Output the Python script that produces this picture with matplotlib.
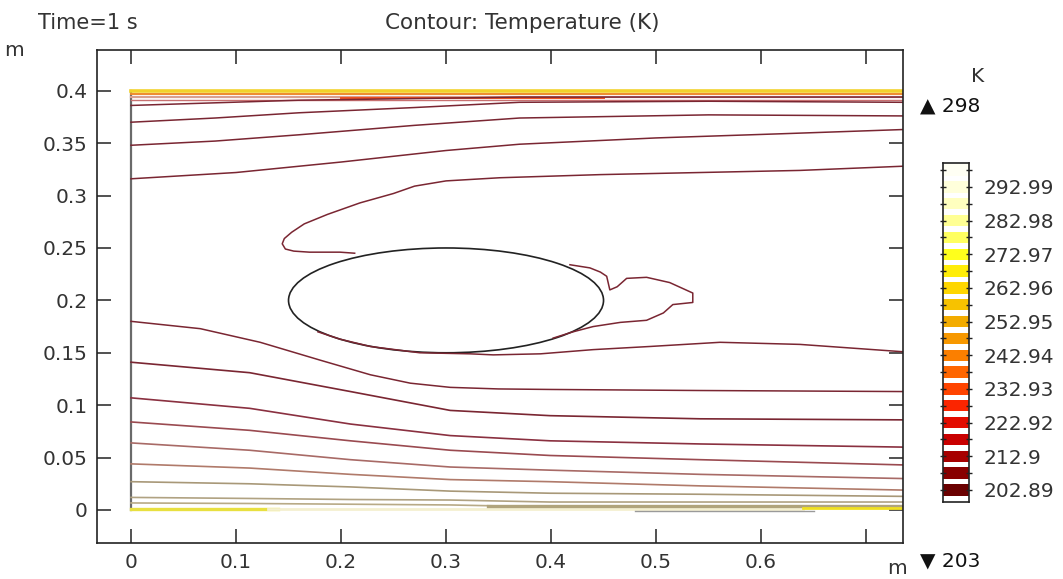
import matplotlib
matplotlib.use("Agg")
import matplotlib.pyplot as plt
from matplotlib.patches import Ellipse
from matplotlib.colors import LinearSegmentedColormap, Normalize

# ---- data (metres / kelvin) ----
# isolines above the cylinder
t4_x = [0.0, 0.16, 0.37, 0.735]
t4_y = [0.386, 0.391, 0.394, 0.394]
t5_x = [0.0, 0.08, 0.16, 0.27, 0.37, 0.55, 0.735]
t5_y = [0.370, 0.374, 0.379, 0.384, 0.389, 0.390, 0.389]
t6_x = [0.0, 0.08, 0.16, 0.27, 0.37, 0.55, 0.735]
t6_y = [0.348, 0.352, 0.358, 0.367, 0.374, 0.377, 0.376]
t7_x = [0.0, 0.1, 0.2, 0.3, 0.37, 0.5, 0.62, 0.735]
t7_y = [0.316, 0.322, 0.332, 0.343, 0.349, 0.355, 0.359, 0.363]

# contour that wraps over the cylinder, and the wake lobe
loop_x = [0.735, 0.637, 0.542, 0.447, 0.351, 0.300, 0.270, 0.250, 0.218,
          0.187, 0.165, 0.153, 0.146, 0.144, 0.147, 0.155, 0.170, 0.199, 0.213]
loop_y = [0.328, 0.324, 0.322, 0.320, 0.317, 0.314, 0.309, 0.302, 0.293,
          0.282, 0.273, 0.265, 0.259, 0.254, 0.249, 0.247, 0.246, 0.246, 0.245]
wake_x = [0.418, 0.437, 0.447, 0.453, 0.456, 0.463, 0.472, 0.491, 0.513,
          0.535, 0.535, 0.516, 0.507, 0.491, 0.466, 0.440, 0.421, 0.402]
wake_y = [0.234, 0.231, 0.227, 0.223, 0.210, 0.213, 0.221, 0.222, 0.217,
          0.207, 0.198, 0.196, 0.188, 0.181, 0.179, 0.175, 0.170, 0.164]
under_x = [0.178, 0.199, 0.228, 0.275, 0.323, 0.345, 0.390, 0.440, 0.494,
           0.561, 0.637, 0.735]
under_y = [0.170, 0.163, 0.156, 0.150, 0.149, 0.148, 0.149, 0.153, 0.156,
           0.160, 0.158, 0.151]

# isolines below the cylinder
a_x = [0.0, 0.066, 0.123, 0.18, 0.228, 0.266, 0.304, 0.35, 0.40, 0.542, 0.735]
a_y = [0.180, 0.173, 0.160, 0.143, 0.129, 0.121, 0.117, 0.1155, 0.115, 0.114, 0.113]
low_x = [0.0, 0.113, 0.209, 0.304, 0.399, 0.542, 0.735]
b_y = [0.141, 0.131, 0.113, 0.095, 0.090, 0.087, 0.086]
c_y = [0.107, 0.097, 0.082, 0.071, 0.066, 0.063, 0.060]
d_y = [0.084, 0.076, 0.066, 0.057, 0.052, 0.048, 0.043]
e_y = [0.064, 0.057, 0.048, 0.041, 0.038, 0.034, 0.030]
f_y = [0.044, 0.040, 0.034, 0.029, 0.027, 0.023, 0.019]
g_y = [0.027, 0.025, 0.022, 0.018, 0.016, 0.015, 0.013]
h_y = [0.012, 0.011, 0.010, 0.0095, 0.0076, 0.0076, 0.0076]
i_y = [0.0067, 0.0062, 0.0055, 0.0048, 0.0029, 0.0029, 0.0029]

# colour legend
levels = [202.89, 207.9, 212.9, 217.91, 222.92, 227.92, 232.93, 237.93,
          242.94, 247.95, 252.95, 257.96, 262.96, 267.97, 272.97, 277.98,
          282.98, 287.99, 292.99, 297.99]
level_labels = [202.89, 212.9, 222.92, 232.93, 242.94, 252.95, 262.96,
                272.97, 282.98, 292.99]
t_min, t_max = 203, 298

W, H = 1063, 579
fig = plt.figure(figsize=(W / 100, H / 100), dpi=100)
txt = "#333333"
fs = 14.5


def box(l, t, r, b):
    return [l / W, 1 - b / H, (r - l) / W, (b - t) / H]


ax = fig.add_axes(box(97, 50, 903, 543))
ax.set_xlim(-0.0324, 0.7352)
ax.set_ylim(-0.0315, 0.4389)

dark = "#7a2632"
ax.plot([0, 0], [0, 0.4], color="#6a6a6a", lw=1.6)

# hot wall at the top
ax.plot([0, 0.735], [0.3995, 0.3995], color="#f2d22a", lw=2.6)
ax.plot([0, 0.735], [0.3968, 0.3968], color="#ee8a2c", lw=1.4)
ax.plot([0, 0.735], [0.3945, 0.3945], color="#d9a090", lw=1.6)
ax.plot([0.2, 0.45], [0.3935, 0.3935], color="#f05020", lw=1.4)
ax.plot([0, 0.735], [0.3915, 0.3915], color="#c87070", lw=1.0)
for xs, ys in [(t4_x, t4_y), (t5_x, t5_y), (t6_x, t6_y), (t7_x, t7_y)]:
    ax.plot(xs, ys, color=dark, lw=1.1)

ax.add_patch(Ellipse((0.3, 0.2), 0.3, 0.1, fill=False, ec="#222222", lw=1.2))
ax.plot(loop_x, loop_y, color=dark, lw=1.1)
ax.plot(wake_x, wake_y, color=dark, lw=1.1)
ax.plot(under_x, under_y, color=dark, lw=1.1)

ax.plot(a_x, a_y, color=dark, lw=1.1)
low_sets = [(b_y, dark), (c_y, "#8a3040"), (d_y, "#9a4a50"),
            (e_y, "#a86a66"), (f_y, "#b07a6a"), (g_y, "#a89878"),
            (h_y, "#b0a282"), (i_y, "#b8aa86")]
for ys, col in low_sets:
    ax.plot(low_x, ys, color=col, lw=1.2)

# cold wall at the bottom
ax.plot([0, 0.14], [0.001, 0.001], color="#e8e040", lw=2.4)
ax.plot([0.13, 0.64], [0.001, 0.001], color="#f4f0d0", lw=2.0)
ax.plot([0.34, 0.735], [0.0035, 0.0035], color="#b0a47c", lw=2.4)
ax.plot([0.64, 0.735], [0.0015, 0.0015], color="#f0e020", lw=2.0)
ax.plot([0.48, 0.65], [-0.0005, -0.0005], color="#9a9a9a", lw=1.0)

xt = [0, 0.1, 0.2, 0.3, 0.4, 0.5, 0.6, 0.7]
ax.set_xticks(xt)
ax.set_xticklabels(["0", "0.1", "0.2", "0.3", "0.4", "0.5", "0.6", ""])
yt = [0, 0.05, 0.1, 0.15, 0.2, 0.25, 0.3, 0.35, 0.4]
ax.set_yticks(yt)
ax.set_yticklabels(["0", "0.05", "0.1", "0.15", "0.2", "0.25", "0.3", "0.35", "0.4"])
ax.tick_params(direction="in", length=10, width=1.1, top=True, right=True,
               labelsize=fs, colors="#222222", labelcolor=txt, pad=7)
for s in ax.spines.values():
    s.set_linewidth(1.2)
    s.set_color("#222222")

fig.text(38 / W, 1 - 23 / H, "Time=1 s", fontsize=15, va="center", color=txt)
fig.text(522 / W, 1 - 23 / H, "Contour: Temperature (K)", fontsize=15.5,
         ha="center", va="center", color=txt)
fig.text(14 / W, 1 - 50 / H, "m", fontsize=fs, ha="center", va="center", color=txt)
fig.text(897 / W, 1 - 568 / H, "m", fontsize=fs, ha="center", va="center", color=txt)

# ---- colour legend ----
cmap = LinearSegmentedColormap.from_list("thermal", [
    "#6a0000", "#a00000", "#d80000", "#ff2a00", "#ff6400", "#f89000",
    "#f2b400", "#ffd800", "#ffff10", "#ffff80", "#ffffc8", "#fffff4"])
norm = Normalize(levels[0], levels[-1])
cax = fig.add_axes(box(943, 163, 969, 502))
cax.barh(levels, 1, height=3.4, left=0, color=cmap(norm(levels)))
cax.set_xlim(0, 1)
cax.set_ylim(199.3, 300.1)
cax.set_xticks([])
cax.set_yticks(level_labels)
cax.set_yticklabels([f"{v:g}" for v in level_labels])
cax.set_yticks(levels, minor=True)
cax.tick_params(axis="y", which="both", direction="inout", length=5,
                width=1.0, left=True, right=True, labelleft=False,
                labelright=True, labelsize=fs, colors="#222222",
                labelcolor=txt, pad=8)
for s in cax.spines.values():
    s.set_linewidth(1.2)
    s.set_color("#222222")

fig.text(978 / W, 1 - 76 / H, "K", fontsize=fs, ha="center", va="center", color=txt)
fig.text(920 / W, 1 - 106 / H, f"\u25b2 {t_max}", fontsize=fs, va="center", color="#111111")
fig.text(920 / W, 1 - 561 / H, f"\u25bc {t_min}", fontsize=fs, va="center", color="#111111")

fig.savefig("out.png", dpi=100)
